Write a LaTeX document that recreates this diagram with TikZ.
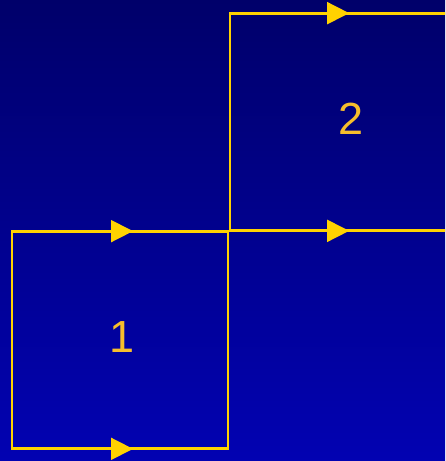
\documentclass[tikz,border=0pt]{standalone}
\usepackage{fontspec}
\setmainfont{Liberation Sans}
\usetikzlibrary{arrows.meta,decorations.markings}
\definecolor{bgtop}{HTML}{00006A}
\definecolor{bgbottom}{HTML}{0202B2}
\definecolor{gold}{HTML}{FFD200}
\definecolor{labelgold}{HTML}{F7BE2C}

\begin{document}
\begin{tikzpicture}[
    x=0.5pt, y=-0.5pt,
    cell/.style={
        rectangle, draw=gold, line width=0.85pt,
        minimum size=108pt, inner sep=0pt,
    },
    cellnum/.style={font=\fontsize{22.5}{26}\selectfont, text=labelgold},
    midarrow/.style={
        draw=gold, line width=0.85pt,
        decoration={markings, mark=at position #1 with
            {\arrow{Triangle[length=11pt,width=11pt]}}},
        postaction=decorate,
    },
    midarrow/.default=0.56,
]

% Background
\useasboundingbox (0,0) rectangle (445,461);
\clip (0,0) rectangle (445,461);
\shade[top color=bgtop, bottom color=bgbottom] (0,0) rectangle (445,461);

% Squares (the second one runs off the right edge)
\node[cell] (sq1) at (120,340) {};
\node[cell, minimum width=118pt] (sq2) at (348,122) {};

% Numbers
\node[cellnum] (num1) at (122,337) {1};
\node[cellnum] (num2) at (351,119) {2};

% Arrows along top and bottom edges
\draw[midarrow, fill=gold] (sq1.north west) -- (sq1.north east);
\draw[midarrow, fill=gold] (sq1.south west) -- (sq1.south east);
\draw[midarrow=0.505, fill=gold] (sq2.north west) -- (sq2.north east);
\draw[midarrow=0.505, fill=gold] (sq2.south west) -- (sq2.south east);

\end{tikzpicture}
\end{document}
